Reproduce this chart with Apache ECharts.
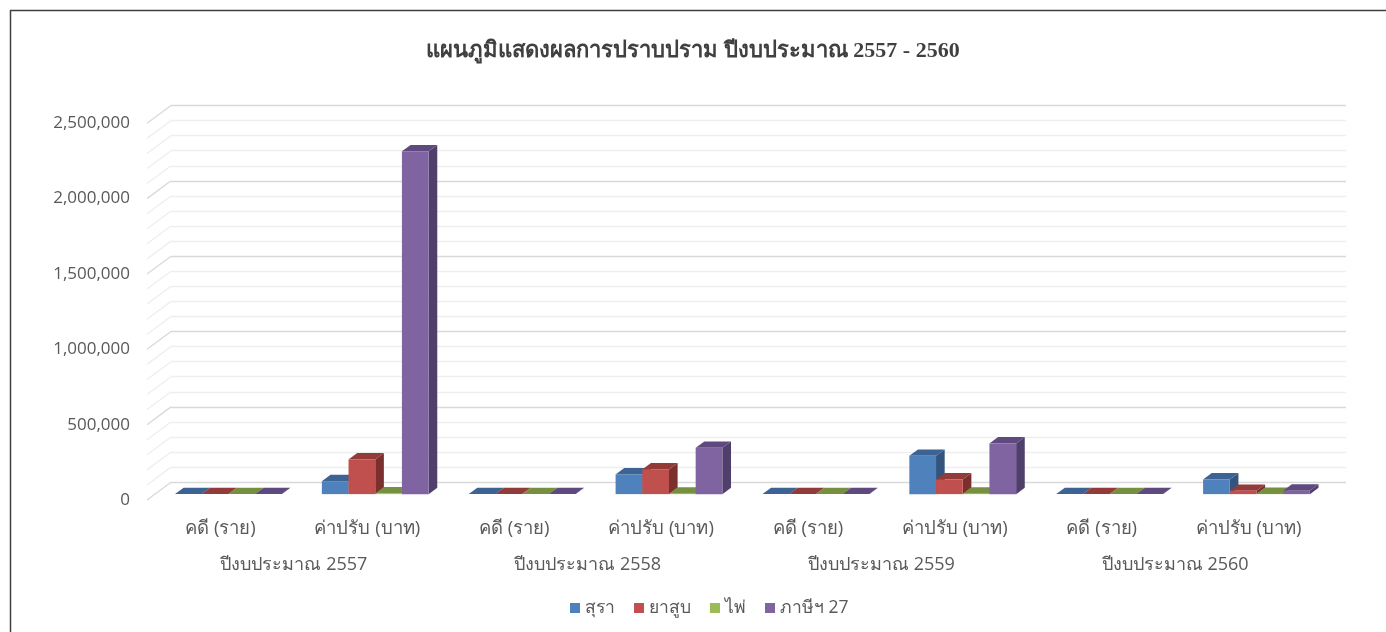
<!DOCTYPE html>
<html><head><meta charset="utf-8">
<script src="https://cdn.jsdelivr.net/npm/echarts@6/dist/echarts.min.js"></script>
<style>html,body{margin:0;padding:0;background:#fff}#c{width:1386px;height:632px}</style>
</head><body><div id="c"></div>
<script>
// ---------- data ----------
const categories = ['คดี (ราย)', 'ค่าปรับ (บาท)', 'คดี (ราย)', 'ค่าปรับ (บาท)', 'คดี (ราย)', 'ค่าปรับ (บาท)', 'คดี (ราย)', 'ค่าปรับ (บาท)'];
const years = ['ปีงบประมาณ 2557', 'ปีงบประมาณ 2558', 'ปีงบประมาณ 2559', 'ปีงบประมาณ 2560'];
const seriesNames = ['สุรา', 'ยาสูบ', 'ไพ่', 'ภาษีฯ 27'];
const liquor  = [150, 86000, 130, 131000, 120, 254000, 90, 97000];
const tobacco = [90, 230000, 80, 164000, 70, 97000, 60, 22000];
const cards   = [20, 4000, 15, 3000, 10, 2500, 8, 1500];
const tax27   = [60, 2275000, 40, 307000, 35, 336000, 20, 23000];
const yMax = 2500000, yMajor = 500000, yMinor = 100000;
const title = 'แผนภูมิแสดงผลการปราบปราม ปีงบประมาณ 2557 - 2560';

// ---------- styling ----------
const frontC = ['#4F81BD', '#C0504D', '#9BBB59', '#8064A2'];
const topC   = ['#3C6393', '#933B39', '#76903F', '#5E4A7E'];
const sideC  = ['#32547E', '#7B302E', '#627836', '#503F6A'];
const D = {x: 24, y: -17.8};      // depth vector (front -> back wall)
const T0 = 0.33, TD = 0.36;       // bar front plane depth fraction, bar depth fraction
const BAR_FRAC = 26.7 / 146.9;
const txt = '#595959';
const FONT = "'Open Sans', 'Noto Sans', sans-serif";

const allSeries = [liquor, tobacco, cards, tax27];

function barRender(si) {
  return function (params, api) {
    const i = api.value(0), v = api.value(1);
    const base = api.coord([i, 0]);
    const top = api.coord([i, v]);
    const bw = api.size([1, 0])[0] * BAR_FRAC;
    const x0 = base[0] + (si - 2) * bw + D.x * T0;
    const yb = base[1] + D.y * T0;
    const yt = top[1] + D.y * T0;
    const dx = D.x * TD, dy = D.y * TD;
    const x1 = x0 + bw;
    return {type: 'group', children: [
      {type: 'polygon', shape: {points: [[x1, yb], [x1, yt], [x1 + dx, yt + dy], [x1 + dx, yb + dy]]}, style: {fill: sideC[si]}},
      {type: 'polygon', shape: {points: [[x0, yt], [x1, yt], [x1 + dx, yt + dy], [x0 + dx, yt + dy]]}, style: {fill: topC[si]}},
      {type: 'rect', shape: {x: x0, y: yt, width: bw, height: Math.max(0, yb - yt)}, style: {fill: frontC[si]}}
    ]};
  };
}

const tickVals = [];
for (let v = 0; v <= yMax; v += yMinor) tickVals.push([0, v]);

const series = [
  {
    type: 'custom', silent: true, xAxisIndex: 0, yAxisIndex: 0, z: 1,
    data: tickVals,
    renderItem: function (params, api) {
      const v = api.value(1);
      const y = api.coord([0, v])[1];
      const x = params.coordSys.x;
      const major = v % yMajor === 0;
      return {type: 'line', shape: {x1: x, y1: y, x2: x + D.x, y2: y + D.y},
        style: {stroke: major ? '#D9D9D9' : '#EEEEEE', lineWidth: 1.3}};
    }
  }
];
allSeries.forEach((vals, si) => {
  series.push({
    type: 'custom', name: seriesNames[si], xAxisIndex: 0, yAxisIndex: 0, z: 5,
    itemStyle: {color: frontC[si]},
    encode: {x: 0, y: 1},
    data: vals.map((v, i) => [i, v]),
    renderItem: barRender(si)
  });
});

const chart = echarts.init(document.getElementById('c'));
chart.setOption({
  animation: false,
  backgroundColor: '#fff',
  title: {text: title, left: 'center', top: 35,
    textStyle: {fontFamily: "'Liberation Serif', serif", fontWeight: 'bold', fontSize: 22, color: '#404040'}},
  legend: {
    data: seriesNames.map(n => ({name: n, icon: 'rect'})),
    left: 565, top: 594, itemWidth: 10, itemHeight: 10, itemGap: 19,
    textStyle: {fontFamily: FONT, fontSize: 17.5, color: txt}
  },
  grid: [
    {left: 147, right: 64, top: 123.3, bottom: 132},
    {left: 147 + D.x, right: 64 - D.x, top: 123.3 + D.y, bottom: 132 - D.y}
  ],
  xAxis: [
    {type: 'category', gridIndex: 0, data: categories, position: 'bottom',
      axisLine: {show: false}, axisTick: {show: false}, splitLine: {show: false},
      axisLabel: {margin: 18, fontFamily: FONT, fontSize: 18.5, color: txt, lineHeight: 22, interval: 0}},
    {type: 'category', gridIndex: 0, data: years, position: 'bottom',
      axisLine: {show: false}, axisTick: {show: false}, splitLine: {show: false},
      axisLabel: {margin: 54, fontFamily: FONT, fontSize: 18, color: txt, lineHeight: 22, interval: 0}},
    {type: 'value', gridIndex: 1, min: 0, max: 1, show: false}
  ],
  yAxis: [
    {type: 'value', gridIndex: 0, min: 0, max: yMax, interval: yMajor,
      axisLine: {show: false}, axisTick: {show: false}, splitLine: {show: false},
      axisLabel: {margin: 17, fontFamily: FONT, fontSize: 17, color: txt,
        formatter: v => v.toLocaleString('en-US')}},
    {type: 'value', gridIndex: 1, min: 0, max: yMax, interval: yMajor,
      axisLine: {show: false}, axisTick: {show: false}, axisLabel: {show: false},
      splitLine: {show: true, lineStyle: {color: '#D9D9D9', width: 1.3}},
      minorTick: {show: false, splitNumber: 5},
      minorSplitLine: {show: true, lineStyle: {color: '#EEEEEE', width: 1.3}}}
  ],
  series: series,
  graphic: [
    {type: 'line', shape: {x1: 10, y1: 10.5, x2: 1386, y2: 10.5}, style: {stroke: '#404040', lineWidth: 1.5}, silent: true},
    {type: 'line', shape: {x1: 10.5, y1: 10, x2: 10.5, y2: 632}, style: {stroke: '#404040', lineWidth: 1.5}, silent: true}
  ]
});
</script></body></html>
